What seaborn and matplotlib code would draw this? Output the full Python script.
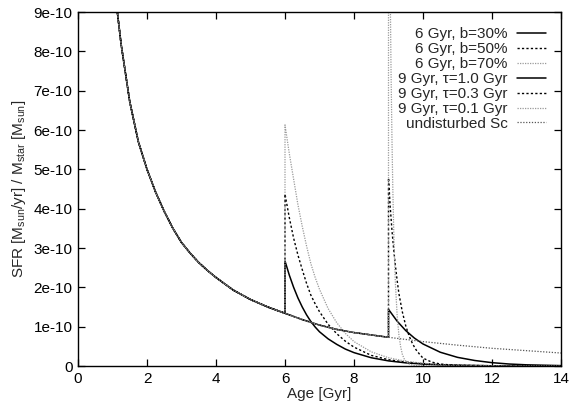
import numpy as np
import pandas as pd
import seaborn as sns
import matplotlib
matplotlib.use("Agg")
import matplotlib.pyplot as plt
from matplotlib.ticker import FixedLocator

# ---- data (SFR/M in units of 1e-10) ----
und_x = [1.0, 1.14, 1.25, 1.5, 1.75, 2.0, 2.25, 2.5, 2.75, 3.0, 3.25, 3.5, 3.75, 4.0,
         4.5, 5.0, 5.5, 6.0, 6.5, 7.0, 7.5, 8.0, 8.5, 9.0, 10.0, 11.0, 12.0, 13.0, 14.0]
und_y = [10.3, 9.0, 8.18, 6.72, 5.70, 5.00, 4.42, 3.93, 3.50, 3.14, 2.87, 2.63, 2.43, 2.25,
         1.93, 1.69, 1.50, 1.34, 1.18, 1.04, 0.93, 0.85, 0.79, 0.73, 0.62, 0.53, 0.45, 0.39, 0.33]

b_x = [6.0, 6.125, 6.25, 6.375, 6.5, 6.625, 6.75, 6.875, 7.0, 7.25, 7.5, 7.75, 8.0,
       8.5, 9.0, 9.5, 10.0, 10.5, 11.0, 12.0, 13.0, 14.0]
b30_y = [2.67, 2.31, 2.0, 1.73, 1.5, 1.30, 1.13, 0.99, 0.87, 0.69, 0.55, 0.43, 0.34,
         0.21, 0.13, 0.08, 0.05, 0.03, 0.02, 0.005, 0.001, 0.0]
b50_y = [4.37, 3.77, 3.25, 2.82, 2.45, 2.10, 1.80, 1.58, 1.38, 1.06, 0.82, 0.63, 0.48,
         0.27, 0.16, 0.10, 0.06, 0.035, 0.02, 0.007, 0.002, 0.0]
b70_y = [6.13, 5.40, 4.75, 4.10, 3.55, 3.05, 2.60, 2.25, 1.95, 1.46, 1.10, 0.83, 0.62,
         0.36, 0.21, 0.12, 0.07, 0.04, 0.025, 0.008, 0.002, 0.0]

t10_x = [9.0, 9.125, 9.25, 9.5, 9.75, 10.0, 10.5, 11.0, 11.5, 12.0, 12.5, 13.0, 13.5, 14.0]
t10_y = [1.44, 1.29, 1.14, 0.90, 0.71, 0.56, 0.35, 0.22, 0.14, 0.085, 0.05, 0.03, 0.02, 0.01]
t03_x = [9.0, 9.05, 9.1, 9.15, 9.2, 9.25, 9.3, 9.4, 9.5, 9.6, 9.7, 9.8, 9.9, 10.0,
         10.25, 10.5, 11.0, 12.0, 14.0]
t03_y = [4.78, 4.05, 3.45, 2.97, 2.55, 2.18, 1.85, 1.38, 1.02, 0.76, 0.56, 0.41, 0.30, 0.20,
         0.10, 0.05, 0.012, 0.0, 0.0]
t01_x = [9.0, 9.025, 9.05, 9.075, 9.1, 9.125, 9.15, 9.175, 9.2, 9.25, 9.3, 9.35, 9.4,
         9.45, 9.5, 9.6, 9.7, 9.8, 10.0, 14.0]
t01_y = [16.0, 12.3, 9.5, 7.4, 5.8, 4.5, 3.5, 2.7, 2.1, 1.3, 0.8, 0.5, 0.3,
         0.19, 0.12, 0.05, 0.02, 0.008, 0.001, 0.0]

labels = ["6 Gyr, b=30%", "6 Gyr, b=50%", "6 Gyr, b=70%",
          "9 Gyr, \u03c4=1.0 Gyr", "9 Gyr, \u03c4=0.3 Gyr", "9 Gyr, \u03c4=0.1 Gyr",
          "undisturbed Sc"]
x_ticks = [0, 2, 4, 6, 8, 10, 12, 14]
y_ticks = [0, 1, 2, 3, 4, 5, 6, 7, 8, 9]
y_ticklabels = ["0", "1e-10", "2e-10", "3e-10", "4e-10", "5e-10", "6e-10", "7e-10", "8e-10", "9e-10"]


def series(t0, bx, by):
    pre_x = [x for x in und_x if x <= t0]
    pre_y = [y for x, y in zip(und_x, und_y) if x <= t0]
    return pre_x + list(bx), pre_y + list(by)


curves = [
    (labels[0],) + series(6.0, b_x, b30_y),
    (labels[1],) + series(6.0, b_x, b50_y),
    (labels[2],) + series(6.0, b_x, b70_y),
    (labels[3],) + series(9.0, t10_x, t10_y),
    (labels[4],) + series(9.0, t03_x, t03_y),
    (labels[5],) + series(9.0, t01_x, t01_y),
    (labels[6], und_x, und_y),
]

styles = {
    labels[0]: dict(color="black", lw=1.1, ls="-"),
    labels[1]: dict(color="black", lw=1.0, ls=(0, (1.6, 1.6))),
    labels[2]: dict(color="#9a9a9a", lw=0.9, ls=(0, (1, 1))),
    labels[3]: dict(color="black", lw=1.1, ls="-"),
    labels[4]: dict(color="black", lw=1.0, ls=(0, (1.6, 1.6))),
    labels[5]: dict(color="#9a9a9a", lw=0.9, ls=(0, (1, 1))),
    labels[6]: dict(color="#555555", lw=0.9, ls=(0, (1, 1.3))),
}

sns.set_theme(style="ticks")
plt.rcParams["font.family"] = ["Liberation Sans", "DejaVu Sans"]
plt.rcParams["mathtext.fontset"] = "custom"
plt.rcParams["mathtext.rm"] = "Liberation Sans"
plt.rcParams["mathtext.it"] = "Liberation Sans:italic"

fig = plt.figure(figsize=(5.73, 4.09), dpi=100)
ax = fig.add_axes([78 / 573, 1 - 366 / 409, (561 - 78) / 573, (366 - 12) / 409])

for lab, xs, ys in curves:
    df = pd.DataFrame({"Age": xs, "SFR": ys})
    st = styles[lab]
    sns.lineplot(data=df, x="Age", y="SFR", ax=ax, sort=False, estimator=None,
                 color=st["color"], linewidth=st["lw"], linestyle=st["ls"], label=lab)

ax.set_xlim(0, 14)
ax.set_ylim(0, 9)
ax.xaxis.set_major_locator(FixedLocator(x_ticks))
ax.set_xticklabels([str(t) for t in x_ticks])
ax.yaxis.set_major_locator(FixedLocator(y_ticks))
ax.set_yticklabels(y_ticklabels)
ax.tick_params(direction="in", length=5, width=0.9, top=True, right=True,
               labelsize=11, colors="black", pad=4)
for s in ax.spines.values():
    s.set_linewidth(1.0)
    s.set_color("black")

ax.set_xlabel("Age [Gyr]", fontsize=11, labelpad=1)
ax.set_ylabel(r"SFR [M$_{\mathrm{sun}}$/yr] / M$_{\mathrm{star}}$ [M$_{\mathrm{sun}}$]",
              fontsize=11, labelpad=4)

leg = ax.legend(loc="upper right", frameon=False, markerfirst=False, fontsize=11,
                handlelength=1.9, labelspacing=0.06, borderaxespad=0.6,
                handletextpad=0.6)

fig.savefig("out.png", dpi=100)
